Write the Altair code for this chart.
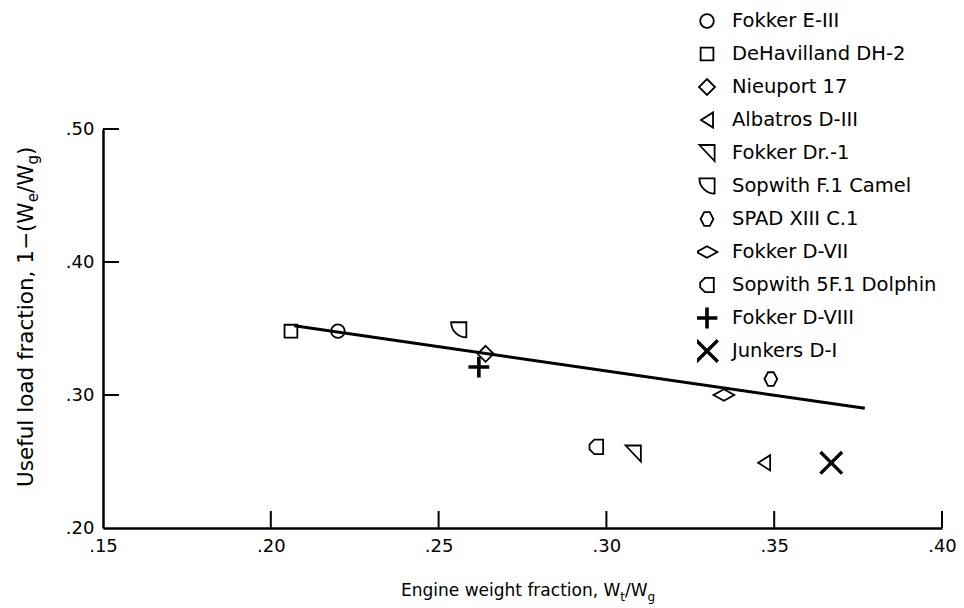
import altair as alt
import pandas as pd

# ---------------- data ----------------
names = [
    "Fokker E-III", "DeHavilland DH-2", "Nieuport 17", "Albatros D-III",
    "Fokker Dr.-1", "Sopwith F.1 Camel", "SPAD XIII C.1", "Fokker D-VII",
    "Sopwith 5F.1 Dolphin", "Fokker D-VIII", "Junkers D-I",
]
engine_frac = [0.220, 0.206, 0.264, 0.347, 0.308, 0.256, 0.349, 0.335, 0.297, 0.262, 0.367]
useful_load = [0.348, 0.348, 0.331, 0.249, 0.256, 0.349, 0.312, 0.300, 0.261, 0.321, 0.249]

trend_x = [0.207, 0.377]
trend_y = [0.352, 0.290]

x_ticks = [0.15, 0.20, 0.25, 0.30, 0.35, 0.40]
y_ticks = [0.20, 0.30, 0.40, 0.50]
x_tick_marks = [0.20, 0.25, 0.30, 0.35, 0.40]
y_tick_marks = [0.30, 0.40, 0.50]

# ---------------- styling ----------------
W, H = 839, 399
FONT = "DejaVu Sans"

shapes = [
    "M0.85,0A0.85,0.85,0,1,1,-0.85,0A0.85,0.85,0,1,1,0.85,0Z",          # circle
    "M-0.8,-0.8H0.8V0.8H-0.8Z",                                             # square
    "M0,-1L1,0L0,1L-1,0Z",                                                   # diamond
    "M-0.75,0L0.75,-0.95L0.75,0.95Z",                                        # left triangle
    "M-0.95,-1L0.95,-1L0.95,1Z",                                             # right-angle triangle
    "M-0.95,-0.95L0.95,-0.95L0.95,0.95A1.9,1.9,0,0,1,-0.95,-0.95Z",          # quarter circle
    "M-0.8,0L-0.35,-0.85L0.35,-0.85L0.8,0L0.35,0.85L-0.35,0.85Z",           # small hexagon
    "M-1.3,0L0,-0.72L1.3,0L0,0.72Z",                                         # flat diamond
    "M0.85,-0.9L-0.25,-0.9L-0.85,-0.3L-0.85,0.3L-0.25,0.9L0.85,0.9Z",       # pentagon
    "M-1.3,0H1.3M0,-1.3V1.3",                                                # plus
    "M-1.35,-1.35L1.35,1.35M1.35,-1.35L-1.35,1.35",                          # cross
]
widths = [1.8, 1.8, 1.8, 1.8, 1.8, 1.8, 1.8, 1.8, 1.8, 3.6, 3.4]

pts = pd.DataFrame({"name": names, "engine": engine_frac, "useful": useful_load})
trend = pd.DataFrame({"engine": trend_x, "useful": trend_y})

xs = alt.Scale(domain=[0.15, 0.40], nice=False, zero=False)
ys = alt.Scale(domain=[0.20, 0.50], nice=False, zero=False)

label_expr = "substring(format(datum.value, '.2f'), 1)"
x_axis = alt.Axis(values=x_ticks, labelExpr=label_expr, title=None, ticks=False, tickSize=0,
                  grid=False, domainColor="black", domainWidth=2.5, labelFont=FONT,
                  labelFontSize=18, labelColor="black", labelPadding=9, labelFlush=False)
y_axis = alt.Axis(values=y_ticks, labelExpr=label_expr, title=None, ticks=False, tickSize=0,
                  grid=False, domainColor="black", domainWidth=2.5, labelFont=FONT,
                  labelFontSize=18, labelColor="black", labelPadding=9, labelFlush=False)

leg = alt.Legend(orient="none", legendX=594, legendY=-124.35, title=None, symbolSize=256,
                 labelFontSize=19.5, labelFont=FONT, labelColor="black", rowPadding=0,
                 clipHeight=32.7, labelOffset=15, symbolStrokeColor="black", padding=0,
                 labelLimit=400)

points = alt.Chart(pts).mark_point(filled=False, color="black", opacity=1, size=256).encode(
    x=alt.X("engine:Q", scale=xs, axis=x_axis),
    y=alt.Y("useful:Q", scale=ys, axis=y_axis),
    shape=alt.Shape("name:N", scale=alt.Scale(domain=names, range=shapes), legend=leg),
    strokeWidth=alt.StrokeWidth("name:N", scale=alt.Scale(type="ordinal", domain=names, range=widths),
                                legend=leg),
)

line = alt.Chart(trend).mark_line(color="black", strokeWidth=3).encode(
    x=alt.X("engine:Q", scale=xs), y=alt.Y("useful:Q", scale=ys)
)

xtick_rules = alt.Chart(pd.DataFrame({"v": x_tick_marks})).mark_rule(color="black", strokeWidth=2).encode(
    x=alt.X("v:Q", scale=xs), y=alt.value(H), y2=alt.value(H - 17)
)
ytick_rules = alt.Chart(pd.DataFrame({"v": y_tick_marks})).mark_rule(color="black", strokeWidth=2).encode(
    y=alt.Y("v:Q", scale=ys), x=alt.value(0), x2=alt.value(16)
)

one = alt.Data(values=[{}])


def txt(s, x, y, size, angle=0):
    return alt.Chart(one).mark_text(text=s, font=FONT, fontSize=size, color="black", align="left",
                                    baseline="alphabetic", angle=angle).encode(
        x=alt.value(x), y=alt.value(y))


# x-axis title with subscripts
xt = [
    txt("Engine weight fraction, W", 298, 467, 17),
    txt("t", 517.3, 472, 12),
    txt("/W", 522, 467, 17),
    txt("g", 544.5, 472, 12),
]
# y-axis title (rotated) with subscripts
yt = [
    txt("Useful load fraction, 1\u2212(W", -70, 358, 21.5, 270),
    txt("e", -65, 73.3, 15, 270),
    txt("/W", -70, 64.1, 21.5, 270),
    txt("g", -65, 35.6, 15, 270),
    txt(")", -70, 26.1, 21.5, 270),
]

chart = alt.layer(line, xtick_rules, ytick_rules, points, *xt, *yt).properties(
    width=W, height=H,
    autosize=alt.AutoSizeParams(type="none"),
    padding={"left": 103, "top": 129, "right": 22, "bottom": 80},
    background="white",
).configure_view(stroke=None)

chart.save("out.html", embed_options={"renderer": "svg", "actions": False})
